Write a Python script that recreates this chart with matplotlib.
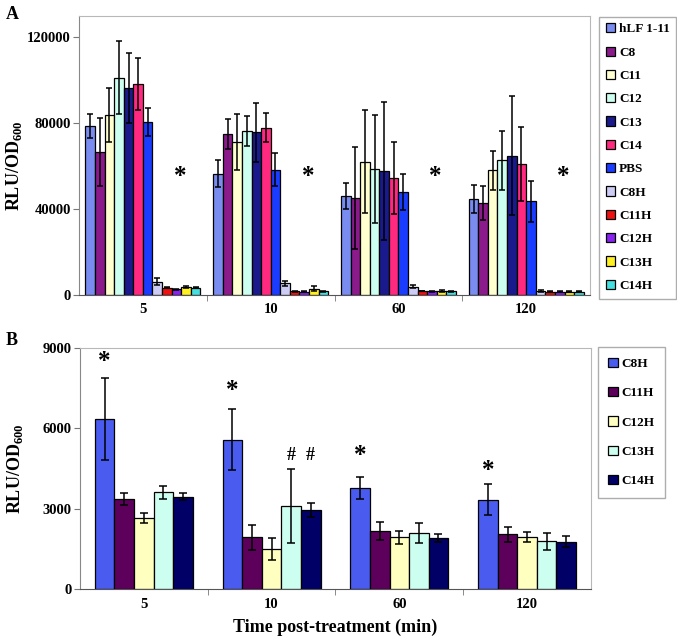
import numpy as np
import matplotlib
matplotlib.use("Agg")
import matplotlib.pyplot as plt

plt.rcParams["font.family"] = ["Liberation Serif", "DejaVu Serif"]
plt.rcParams["font.weight"] = "bold"
plt.rcParams["mathtext.fontset"] = "custom"
plt.rcParams["mathtext.rm"] = "Liberation Serif:bold"
plt.rcParams["mathtext.bf"] = "Liberation Serif:bold"

# time points (min)
groups = ["5", "10", "60", "120"]

# panel A
labels_a = ["hLF 1-11", "C8", "C11", "C12", "C13", "C14", "PBS",
            "C8H", "C11H", "C12H", "C13H", "C14H"]
colors_a = ["#7b8cf0", "#8b1a8b", "#ffffd0", "#ccfff0", "#1a1a8c", "#ff2a7f",
            "#1a3cff", "#ccccf5", "#ee1111", "#8822ee", "#fff022", "#44e0e0"]
hlf = [78750, 56600, 46000, 44650]
c8 = [66650, 75000, 45100, 42900]
c11 = [84000, 71300, 62200, 58100]
c12 = [101200, 76400, 58600, 62800]
c13 = [96400, 75800, 57800, 65000]
c14 = [98400, 78000, 54400, 60900]
pbs = [80600, 58450, 47900, 43600]
c8h = [6200, 5400, 3800, 2000]
c11h = [3500, 1800, 1900, 1600]
c12h = [2700, 1500, 1700, 1500]
c13h = [3800, 3000, 1900, 1600]
c14h = [3500, 1800, 1800, 1600]
hlf_err = [5500, 6500, 6100, 6400]
c8_err = [16000, 6900, 23700, 8100]
c11_err = [12500, 12900, 24200, 9200]
c12_err = [17000, 6900, 25100, 13800]
c13_err = [16300, 13600, 32300, 27700]
c14_err = [12000, 6800, 16800, 17200]
pbs_err = [6700, 7600, 8400, 9500]
c8h_err = [1600, 1200, 700, 500]
c11h_err = [300, 300, 200, 200]
c12h_err = [300, 200, 200, 200]
c13h_err = [300, 1300, 300, 200]
c14h_err = [200, 300, 200, 200]

vals_a = [hlf, c8, c11, c12, c13, c14, pbs, c8h, c11h, c12h, c13h, c14h]
errs_a = [hlf_err, c8_err, c11_err, c12_err, c13_err, c14_err, pbs_err,
          c8h_err, c11h_err, c12h_err, c13h_err, c14h_err]
star_a = [55000, 55000, 55000, 55000]

# panel B
labels_b = ["C8H", "C11H", "C12H", "C13H", "C14H"]
colors_b = ["#4a5cf0", "#5c005c", "#ffffc0", "#ccfff0", "#000066"]
b_c8h = [6340, 5580, 3780, 3335]
b_c11h = [3370, 1935, 2160, 2050]
b_c12h = [2655, 1510, 1935, 1960]
b_c13h = [3610, 3100, 2095, 1790]
b_c14h = [3450, 2950, 1910, 1770]
b_c8h_err = [1540, 1120, 420, 585]
b_c11h_err = [225, 470, 335, 285]
b_c12h_err = [175, 410, 250, 186]
b_c13h_err = [235, 1390, 360, 320]
b_c14h_err = [140, 250, 137, 210]
vals_b = [b_c8h, b_c11h, b_c12h, b_c13h, b_c14h]
errs_b = [b_c8h_err, b_c11h_err, b_c12h_err, b_c13h_err, b_c14h_err]
star_b = [8500, 7420, 5000, 4430]
hash_b = 4970


def style_axes(ax, ymax, yticks, label_y):
    ax.set_xlim(-0.5, len(groups) - 0.5)
    ax.set_ylim(0, ymax)
    ax.set_yticks(yticks)
    ax.set_xticks(range(len(groups)))
    ax.set_xticklabels(groups)
    ax.set_xticks(np.arange(0.5, len(groups) - 0.5), minor=True)
    ax.tick_params(axis="x", which="major", length=0, labelsize=10.5, pad=6)
    ax.tick_params(axis="x", which="minor", length=4, color="#777777", direction="out")
    ax.tick_params(axis="y", length=4, color="#777777", labelsize=10.5, pad=2)
    ax.spines["left"].set_color("#888888")
    ax.spines["bottom"].set_color("#555555")
    ax.spines["top"].set_color("#b8b8b8")
    ax.spines["right"].set_color("#b8b8b8")
    ax.set_ylabel("RLU/OD$_{\\mathbf{600}}$", fontsize=13, fontweight="bold")
    ax.yaxis.set_label_coords(-0.108, label_y)


fig = plt.figure(figsize=(6.77, 6.39), dpi=100)
ax1 = fig.add_axes([0.1167, 0.5383, 0.755, 0.4367])
ax2 = fig.add_axes([0.118, 0.0778, 0.755, 0.378])

x = np.arange(len(groups))

# panel A bars
w_a = 0.9 / len(vals_a)
for i in range(len(vals_a)):
    pos = x - 0.45 + w_a * (i + 0.5)
    ax1.bar(pos, vals_a[i], w_a, color=colors_a[i], edgecolor="black",
            linewidth=0.9, label=labels_a[i])
    ax1.errorbar(pos, vals_a[i], yerr=errs_a[i], fmt="none", ecolor="black",
                 elinewidth=1.1, capsize=2.5, capthick=1.1)
for g in range(len(groups)):
    ax1.text(x[g] + 0.29, star_a[g], "*", ha="center", va="center",
             fontsize=18, fontweight="bold")
style_axes(ax1, 130000, [0, 40000, 80000, 120000], 0.465)
ax1.legend(loc="upper left", bbox_to_anchor=(0.885, 0.974), bbox_transform=fig.transFigure,
           fontsize=9.5, frameon=True, fancybox=False, edgecolor="#999999",
           labelspacing=0.84, handlelength=0.7, handleheight=0.7, handletextpad=0.3,
           borderpad=0.5, borderaxespad=0)

# panel B bars
w_b = 0.766 / len(vals_b)
for i in range(len(vals_b)):
    pos = x - 0.383 + w_b * (i + 0.5)
    ax2.bar(pos, vals_b[i], w_b, color=colors_b[i], edgecolor="black",
            linewidth=0.9, label=labels_b[i])
    ax2.errorbar(pos, vals_b[i], yerr=errs_b[i], fmt="none", ecolor="black",
                 elinewidth=1.1, capsize=3, capthick=1.1)
for g in range(len(groups)):
    ax2.text(x[g] - 0.383 + w_b * 0.5, star_b[g], "*", ha="center", va="center",
             fontsize=18, fontweight="bold")
for i in [3, 4]:
    ax2.text(x[1] - 0.383 + w_b * (i + 0.5), hash_b, "#", ha="center", va="center",
             fontsize=13, fontweight="bold")
style_axes(ax2, 9000, [0, 3000, 6000, 9000], 0.5)
ax2.set_xlabel("Time post-treatment (min)", fontsize=13, fontweight="bold", labelpad=6)
ax2.legend(loc="upper left", bbox_to_anchor=(0.883, 0.457), bbox_transform=fig.transFigure,
           fontsize=9.5, frameon=True, fancybox=False, edgecolor="#999999",
           labelspacing=1.3, handlelength=0.7, handleheight=0.7, handletextpad=0.3,
           borderpad=0.8, borderaxespad=0)

fig.text(0.008, 0.970, "A", fontsize=13, fontweight="bold")
fig.text(0.008, 0.460, "B", fontsize=13, fontweight="bold")

fig.savefig("out.png", dpi=100)
